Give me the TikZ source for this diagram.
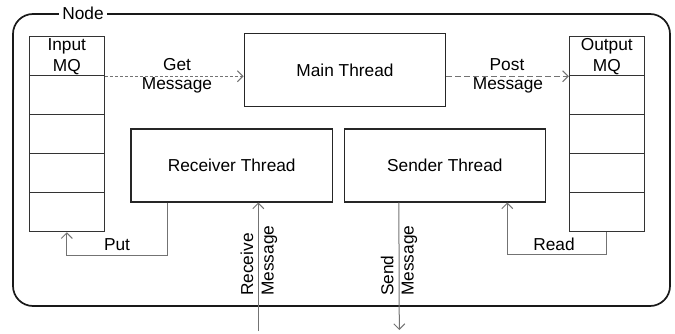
\documentclass[tikz,border=0pt]{standalone}
\usepackage{fontspec}
\setmainfont{Liberation Sans}
\usetikzlibrary{arrows.meta}
\begin{document}
\begin{tikzpicture}[x=1pt,y=-1pt,
  font=\fontsize{17.3}{22}\selectfont,
  thread/.style={draw=black!85, line width=1.2pt, minimum width=201.5pt, minimum height=72.8pt, inner sep=0pt},
  cell/.style={draw=black!80, line width=1.1pt, minimum width=75pt, minimum height=39pt, inner sep=0pt, align=center},
  conn/.style={draw=black!55, line width=1pt},
  tip/.style={-{Straight Barb[length=5.5pt,width=11pt,line width=1pt]}},
  lbl/.style={inner sep=0pt, anchor=base}]
\useasboundingbox (0,0) rectangle (675,334);

% enclosing node frame
\draw[black!90, line width=1.7pt, rounded corners=20pt] (13,14) rectangle (670,306);
\node[fill=white, inner sep=3pt] (nodelbl) at (83,13) {Node};

% threads
\node[thread] (main) at (345,70) {Main Thread};
\node[thread] (recv) at (231.7,165.5) {Receiver Thread};
\node[thread] (send) at (444.9,165.5) {Sender Thread};

% input message queue
\node[cell] (in1) at (66.8,56.2) {Input\\[-1pt]MQ};
\node[cell] (in2) at (66.8,95.2) {};
\node[cell] (in3) at (66.8,134.2) {};
\node[cell] (in4) at (66.8,173.2) {};
\node[cell] (in5) at (66.8,212.2) {};

% output message queue
\node[cell] (out1) at (606.8,56.2) {Output\\[-1pt]MQ};
\node[cell] (out2) at (606.8,95.2) {};
\node[cell] (out3) at (606.8,134.2) {};
\node[cell] (out4) at (606.8,173.2) {};
\node[cell] (out5) at (606.8,212.2) {};

% queue access from the main thread
\draw[conn, dash pattern=on 3pt off 2pt, tip] (in1.south east) -- (main.west |- in1.south east);
\node[lbl] (getlbl) at (177,70.5) {Get};
\node[lbl] (getmsg) at (177,89.3) {Message};

\draw[conn, dash pattern=on 6pt off 3pt, tip] (main.east |- out1.south west) -- (out1.south west);
\node[lbl] (postlbl) at (507,70.5) {Post};
\node[lbl] (postmsg) at (508,89.3) {Message};

% receiver puts into the input queue
\draw[conn, tip] ([xshift=37pt]recv.south west) -- ++(0,52.6) -| (in5.south);
\node[lbl] (putlbl) at (117,250) {Put};

% sender reads from the output queue
\draw[conn, tip] (out5.south) -- ++(0,22.6) -| ([xshift=-39pt]send.south east);
\node[lbl] (readlbl) at (554,250) {Read};

% external traffic
\coordinate (rxin) at (258.3,331);
\draw[conn, tip] (rxin) -- (rxin |- recv.south);
\node[lbl, rotate=90, anchor=base west] (rxlbl1) at (253,296) {Receive};
\node[lbl, rotate=90, anchor=base west] (rxlbl2) at (273.5,296) {Message};

\coordinate (txout) at (399.3,330);
\draw[conn, tip] ([xshift=55.3pt]send.south west) -- (txout);
\node[lbl, rotate=90, anchor=base west] (txlbl1) at (393.3,296) {Send};
\node[lbl, rotate=90, anchor=base west] (txlbl2) at (413.5,296) {Message};
\end{tikzpicture}
\end{document}
